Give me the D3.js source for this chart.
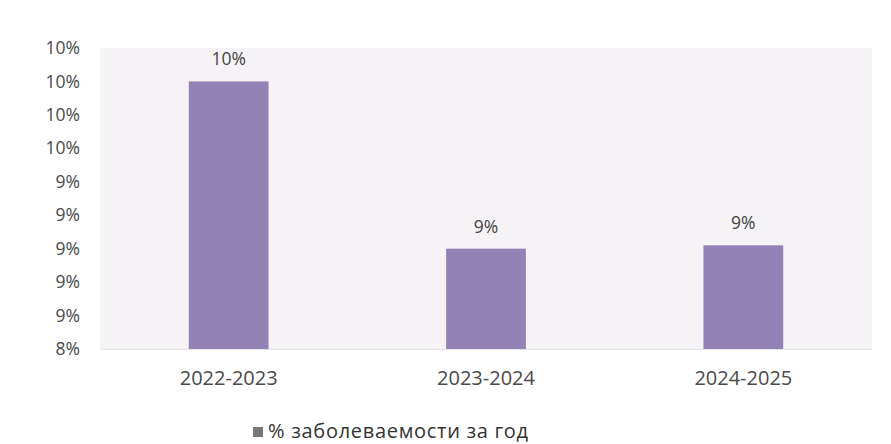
<!doctype HTML>
<html>
<head>
    <meta charset="utf-8">
    <style>
        body { margin: 0; background: #fff; }
        text { font-family: "Open Sans", "DejaVu Sans", sans-serif; }
        .bar { fill: #9282b6; }
        .tick text { fill: #4a4a4a; }
    </style>
    <script src="https://d3js.org/d3.v7.min.js"></script>
</head>
<body>
<script>
    // data
    var years = ["2022-2023", "2023-2024", "2024-2025"];
    var rates = [10.0, 9.0, 9.02];
    var yTicks = [8.4, 8.6, 8.8, 9.0, 9.2, 9.4, 9.6, 9.8, 10.0, 10.2];
    var seriesName = "% заболеваемости за год";

    var canvasWidth = 891;
    var canvasHeight = 444;

    var svg = d3.select("body").append("svg")
        .attr("width", canvasWidth)
        .attr("height", canvasHeight);

    // note: "top" clashes with window.top, so plot edges get their own names
    var plotLeft = 100, plotRight = 872, plotTop = 48, plotBottom = 349;

    var xScale = d3.scaleBand()
        .domain(years)
        .range([plotLeft, plotRight])
        .paddingInner(0.69).paddingOuter(0.345);
    var yScale = d3.scaleLinear()
        .domain([8.4, 10.2])
        .range([plotBottom, plotTop]);

    // plot area, slightly grey like the scan
    svg.append("rect")
        .attr("x", plotLeft).attr("y", plotTop)
        .attr("width", plotRight - plotLeft).attr("height", plotBottom - plotTop)
        .attr("fill", "#f6f3f6");

    // y axis labels (excel rounds them to whole percents)
    svg.append("g")
        .attr("transform", "translate(" + plotLeft + ",0)")
        .call(d3.axisLeft(yScale).tickValues(yTicks).tickSize(0).tickPadding(20)
            .tickFormat(function(d) { return Math.round(d) + "%"; }))
        .call(function(g) { g.select(".domain").remove(); })
        .selectAll("text").attr("font-size", "17.5px");

    // x axis
    svg.append("g")
        .attr("transform", "translate(0," + plotBottom + ")")
        .call(d3.axisBottom(xScale).tickSize(0).tickPadding(22))
        .call(function(g) { g.select(".domain").attr("stroke", "#e4e2e4"); })
        .selectAll("text").attr("font-size", "20px").attr("fill", "#333");

    // bars
    svg.selectAll(".bar")
        .data(rates)
        .enter().append("rect")
        .attr("class", "bar")
        .attr("x", function(d, i) { return xScale(years[i]); })
        .attr("y", function(d) { return yScale(d); })
        .attr("width", xScale.bandwidth())
        .attr("height", function(d) { return plotBottom - yScale(d); });

    // value labels
    svg.selectAll(".val")
        .data(rates)
        .enter().append("text")
        .attr("class", "val")
        .attr("x", function(d, i) { return xScale(years[i]) + xScale.bandwidth() / 2; })
        .attr("y", function(d) { return yScale(d) - 16; })
        .attr("text-anchor", "middle")
        .attr("font-size", "17.5px")
        .attr("fill", "#444")
        .text(function(d) { return Math.round(d) + "%"; });

    // legend
    var legend = svg.append("g").attr("transform", "translate(253,432)");
    legend.append("rect")
        .attr("x", 0).attr("y", -5)
        .attr("width", 10).attr("height", 10)
        .attr("fill", "#777");
    legend.append("text")
        .attr("x", 15).attr("y", 6)
        .attr("font-size", "20px")
        .attr("letter-spacing", "0.7px")
        .attr("fill", "#333")
        .text(seriesName);
</script>
</body>
</html>
